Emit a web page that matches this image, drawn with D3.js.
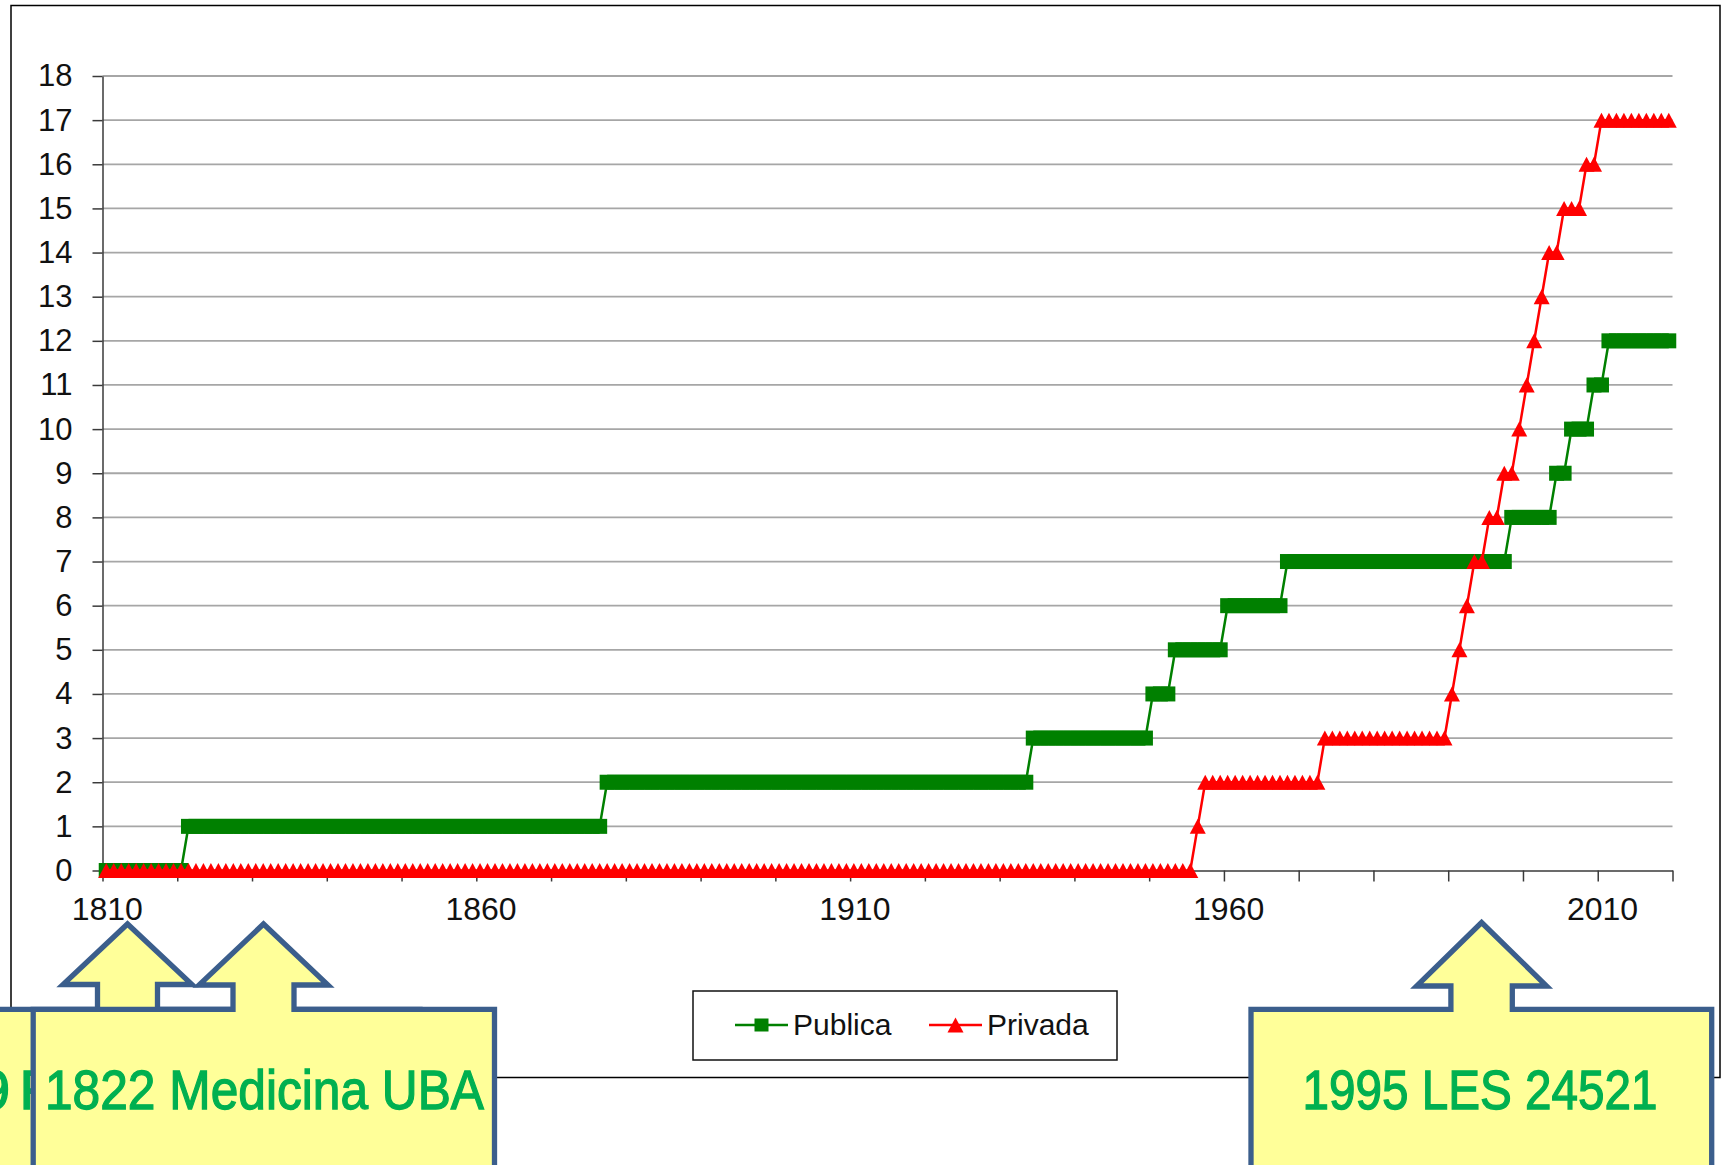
<!DOCTYPE html>
<html>
<head>
<meta charset="utf-8">
<script src="https://cdn.jsdelivr.net/npm/d3@7"></script>
<style>
  body { margin: 0; background: #fff; }
  svg { display: block; }
  text { font-family: "Liberation Sans", Arial, sans-serif; }
</style>
</head>
<body>
<div id="chart-container"></div>
<script>
// DATA (one value per year, one line per decade)

const years = d3.range(1810, 2020); // 1810 .. 2019, one category per year

// universidades publicas, count per year
const publica = [
  0, 0, 0, 0, 0, 0, 0, 0, 0, 0, // 1810
  0, 1, 1, 1, 1, 1, 1, 1, 1, 1, // 1820
  1, 1, 1, 1, 1, 1, 1, 1, 1, 1, // 1830
  1, 1, 1, 1, 1, 1, 1, 1, 1, 1, // 1840
  1, 1, 1, 1, 1, 1, 1, 1, 1, 1, // 1850
  1, 1, 1, 1, 1, 1, 1, 1, 1, 1, // 1860
  1, 1, 1, 1, 1, 1, 1, 2, 2, 2, // 1870
  2, 2, 2, 2, 2, 2, 2, 2, 2, 2, // 1880
  2, 2, 2, 2, 2, 2, 2, 2, 2, 2, // 1890
  2, 2, 2, 2, 2, 2, 2, 2, 2, 2, // 1900
  2, 2, 2, 2, 2, 2, 2, 2, 2, 2, // 1910
  2, 2, 2, 2, 2, 2, 2, 2, 2, 2, // 1920
  2, 2, 2, 2, 3, 3, 3, 3, 3, 3, // 1930
  3, 3, 3, 3, 3, 3, 3, 3, 3, 3, // 1940
  4, 4, 4, 5, 5, 5, 5, 5, 5, 5, // 1950
  6, 6, 6, 6, 6, 6, 6, 6, 7, 7, // 1960
  7, 7, 7, 7, 7, 7, 7, 7, 7, 7, // 1970
  7, 7, 7, 7, 7, 7, 7, 7, 7, 7, // 1980
  7, 7, 7, 7, 7, 7, 7, 7, 8, 8, // 1990
  8, 8, 8, 8, 9, 9, 10, 10, 10, 11, // 2000
  11, 12, 12, 12, 12, 12, 12, 12, 12, 12, // 2010
];

// universidades privadas, count per year
const privada = [
  0, 0, 0, 0, 0, 0, 0, 0, 0, 0, // 1810
  0, 0, 0, 0, 0, 0, 0, 0, 0, 0, // 1820
  0, 0, 0, 0, 0, 0, 0, 0, 0, 0, // 1830
  0, 0, 0, 0, 0, 0, 0, 0, 0, 0, // 1840
  0, 0, 0, 0, 0, 0, 0, 0, 0, 0, // 1850
  0, 0, 0, 0, 0, 0, 0, 0, 0, 0, // 1860
  0, 0, 0, 0, 0, 0, 0, 0, 0, 0, // 1870
  0, 0, 0, 0, 0, 0, 0, 0, 0, 0, // 1880
  0, 0, 0, 0, 0, 0, 0, 0, 0, 0, // 1890
  0, 0, 0, 0, 0, 0, 0, 0, 0, 0, // 1900
  0, 0, 0, 0, 0, 0, 0, 0, 0, 0, // 1910
  0, 0, 0, 0, 0, 0, 0, 0, 0, 0, // 1920
  0, 0, 0, 0, 0, 0, 0, 0, 0, 0, // 1930
  0, 0, 0, 0, 0, 0, 0, 0, 0, 0, // 1940
  0, 0, 0, 0, 0, 0, 1, 2, 2, 2, // 1950
  2, 2, 2, 2, 2, 2, 2, 2, 2, 2, // 1960
  2, 2, 2, 3, 3, 3, 3, 3, 3, 3, // 1970
  3, 3, 3, 3, 3, 3, 3, 3, 3, 3, // 1980
  4, 5, 6, 7, 7, 8, 8, 9, 9, 10, // 1990
  11, 12, 13, 14, 14, 15, 15, 15, 16, 16, // 2000
  17, 17, 17, 17, 17, 17, 17, 17, 17, 17, // 2010
];

const seriesNames = ["Publica", "Privada"];
const yTicks = d3.range(0, 19); // 0 .. 18
const xLabelYears = [1810, 1860, 1910, 1960, 2010];
const xTickYears = d3.range(1810, 2021, 10);

// callout labels (left, middle, right)
const calloutLabels = ["9 F", "1822 Medicina UBA", "1995 LES 24521"];

// CONST and GLOBALS
const width = 1725,
  height = 1165,
  plot = { left: 102.5, right: 1672.5, top: 76, bottom: 870.5 };

const colors = { Publica: "#008000", Privada: "#ff0000" };

const svg = d3
  .select("#chart-container")
  .append("svg")
  .attr("width", width)
  .attr("height", height);

svg.append("rect").attr("width", width).attr("height", height).attr("fill", "#fff");

// outer chart frame
svg
  .append("rect")
  .attr("x", 11)
  .attr("y", 5.5)
  .attr("width", 1709)
  .attr("height", 1072)
  .attr("fill", "none")
  .attr("stroke", "#000")
  .attr("stroke-width", 1.5);

// SCALES
// categories sit between the tick marks, like the spreadsheet chart
const xScale = d3.scaleBand().domain(years).range([plot.left, plot.right]).padding(0);
const xEdge = d3.scaleLinear().domain([1810, 2020]).range([plot.left, plot.right]);
const yScale = d3.scaleLinear().domain([0, 18]).range([plot.bottom, plot.top]);
const cx = (yr) => xScale(yr) + xScale.bandwidth() / 2;

// gridlines
svg
  .append("g")
  .attr("class", "grid")
  .selectAll("line")
  .data(yTicks.filter((d) => d > 0))
  .join("line")
  .attr("x1", plot.left)
  .attr("x2", plot.right)
  .attr("y1", (d) => yScale(d))
  .attr("y2", (d) => yScale(d))
  .attr("stroke", "#a6a6a6")
  .attr("stroke-width", 1.8);

// AXES
const yAxis = d3.axisLeft(yScale).tickValues(yTicks).tickSize(10).tickSizeOuter(0).tickPadding(20);
const gy = svg
  .append("g")
  .attr("class", "axis y-axis")
  .attr("transform", `translate(${plot.left},0)`)
  .call(yAxis);
gy.select(".domain").attr("stroke", "#3a3a3a").attr("stroke-width", 1.5);
gy.selectAll(".tick line").attr("stroke", "#3a3a3a").attr("stroke-width", 1.5);
gy.selectAll(".tick text")
  .attr("font-family", "'Liberation Sans', Arial, sans-serif")
  .attr("font-size", 31)
  .attr("fill", "#111");

// x tick marks, every ten categories
const xTickAxis = d3.axisBottom(xEdge).tickValues(xTickYears).tickSize(11).tickSizeOuter(0).tickFormat("");
const gxTicks = svg
  .append("g")
  .attr("class", "axis x-axis")
  .attr("transform", `translate(0,${plot.bottom})`)
  .call(xTickAxis);
gxTicks.select(".domain").attr("stroke", "#6b6b6b").attr("stroke-width", 2);
gxTicks.selectAll(".tick line").attr("stroke", "#3a3a3a").attr("stroke-width", 1.5);

// x labels, centred on their category
const xLabelAxis = d3.axisBottom(xScale).tickValues(xLabelYears).tickSize(0).tickSizeOuter(0);
const gxLabels = svg
  .append("g")
  .attr("class", "axis x-labels")
  .attr("transform", `translate(1,${plot.bottom})`)
  .call(xLabelAxis);
gxLabels.select(".domain").remove();
gxLabels
  .selectAll(".tick text")
  .attr("font-family", "'Liberation Sans', Arial, sans-serif")
  .attr("font-size", 32)
  .attr("fill", "#111")
  .attr("y", 49.5)
  .attr("dy", 0);

// SERIES
const seriesData = {
  Publica: years.map((yr, i) => ({ year: yr, value: publica[i] })),
  Privada: years.map((yr, i) => ({ year: yr, value: privada[i] })),
};

const line = d3
  .line()
  .x((d) => cx(d.year))
  .y((d) => yScale(d.value));

const trianglePath = "M-8,7.5L0,-7.5L8,7.5Z";

seriesNames.forEach((name) => {
  const g = svg.append("g").attr("class", "series " + name);
  g.append("path")
    .datum(seriesData[name])
    .attr("d", line)
    .attr("fill", "none")
    .attr("stroke", colors[name])
    .attr("stroke-width", 2.5);

  if (name === "Publica") {
    g.selectAll("rect")
      .data(seriesData[name])
      .join("rect")
      .attr("x", (d) => cx(d.year) - 7.5)
      .attr("y", (d) => yScale(d.value) - 7.5)
      .attr("width", 15)
      .attr("height", 15)
      .attr("fill", colors[name]);
  } else {
    g.selectAll("path.marker")
      .data(seriesData[name])
      .join("path")
      .attr("class", "marker")
      .attr("d", trianglePath)
      .attr("transform", (d) => `translate(${cx(d.year)},${yScale(d.value)})`)
      .attr("fill", colors[name]);
  }
});

// LEGEND
const legend = svg.append("g").attr("class", "legend");
legend
  .append("rect")
  .attr("x", 693)
  .attr("y", 991)
  .attr("width", 424)
  .attr("height", 69)
  .attr("fill", "#fff")
  .attr("stroke", "#111")
  .attr("stroke-width", 1.5);

const legendItems = legend
  .selectAll("g.item")
  .data(seriesNames)
  .join("g")
  .attr("class", "item")
  .attr("transform", (d, i) => `translate(${735 + i * 194},1025)`);

legendItems
  .append("line")
  .attr("x1", 0)
  .attr("x2", 53)
  .attr("stroke", (d) => colors[d])
  .attr("stroke-width", 2.5);

legendItems
  .filter((d) => d === "Publica")
  .append("rect")
  .attr("x", 19.5)
  .attr("y", -6.5)
  .attr("width", 14)
  .attr("height", 13)
  .attr("fill", (d) => colors[d]);

legendItems
  .filter((d) => d === "Privada")
  .append("path")
  .attr("d", trianglePath)
  .attr("transform", "translate(26.5,0)")
  .attr("fill", (d) => colors[d]);

legendItems
  .append("text")
  .attr("x", 58)
  .attr("y", 10)
  .attr("font-size", 30)
  .attr("fill", "#111")
  .text((d) => d);

// CALLOUTS (up-arrow callout shapes laid over the chart)
function calloutPath(c) {
  const p = d3.path();
  p.moveTo(c.left, c.bottom);
  p.lineTo(c.left, c.top);
  p.lineTo(c.tip - c.shaft, c.top);
  p.lineTo(c.tip - c.shaft, c.headY);
  p.lineTo(c.tip - c.head, c.headY);
  p.lineTo(c.tip, c.tipY);
  p.lineTo(c.tip + c.head, c.headY);
  p.lineTo(c.tip + c.shaft, c.headY);
  p.lineTo(c.tip + c.shaft, c.top);
  p.lineTo(c.right, c.top);
  p.lineTo(c.right, c.bottom);
  p.closePath();
  return p.toString();
}

// the left callout's text is mostly hidden by the middle one: per-glyph x keeps "9" and "F" where they show
const calloutShapes = [
  { left: -120, right: 420, top: 1009.3, bottom: 1230, tip: 127.5, tipY: 924, headY: 984.5, head: 64.5, shaft: 30,
    text: { x: "-21 5 19.5", y: 1109.3 } },
  { left: 33.2, right: 494.5, top: 1009.3, bottom: 1230, tip: 263.5, tipY: 924, headY: 985, head: 64.5, shaft: 30.5,
    text: { x: 45, y: 1109.3, len: 439 } },
  { left: 1251, right: 1711.7, top: 1009.3, bottom: 1230, tip: 1481.6, tipY: 922.5, headY: 986, head: 65, shaft: 30.7,
    text: { x: 1302.6, y: 1109.3, len: 355 } },
];

calloutShapes.forEach((c, i) => {
  const g = svg.append("g").attr("class", "callout");
  g.append("path")
    .attr("d", calloutPath(c))
    .attr("fill", "#ffff99")
    .attr("stroke", "#3b5e8c")
    .attr("stroke-width", 5.3)
    .attr("stroke-linejoin", "miter");
  const t = g
    .append("text")
    .attr("x", c.text.x)
    .attr("y", c.text.y)
    .attr("font-family", "'Liberation Sans Narrow', 'Arial Narrow', 'DejaVu Sans Condensed', sans-serif")
    .attr("font-size", 56)
    .attr("fill", "#00b050")
    .attr("stroke", "#00b050")
    .attr("stroke-width", 1.3)
    .text(calloutLabels[i]);
  if (c.text.len) t.attr("textLength", c.text.len).attr("lengthAdjust", "spacingAndGlyphs");
});
</script>
</body>
</html>
